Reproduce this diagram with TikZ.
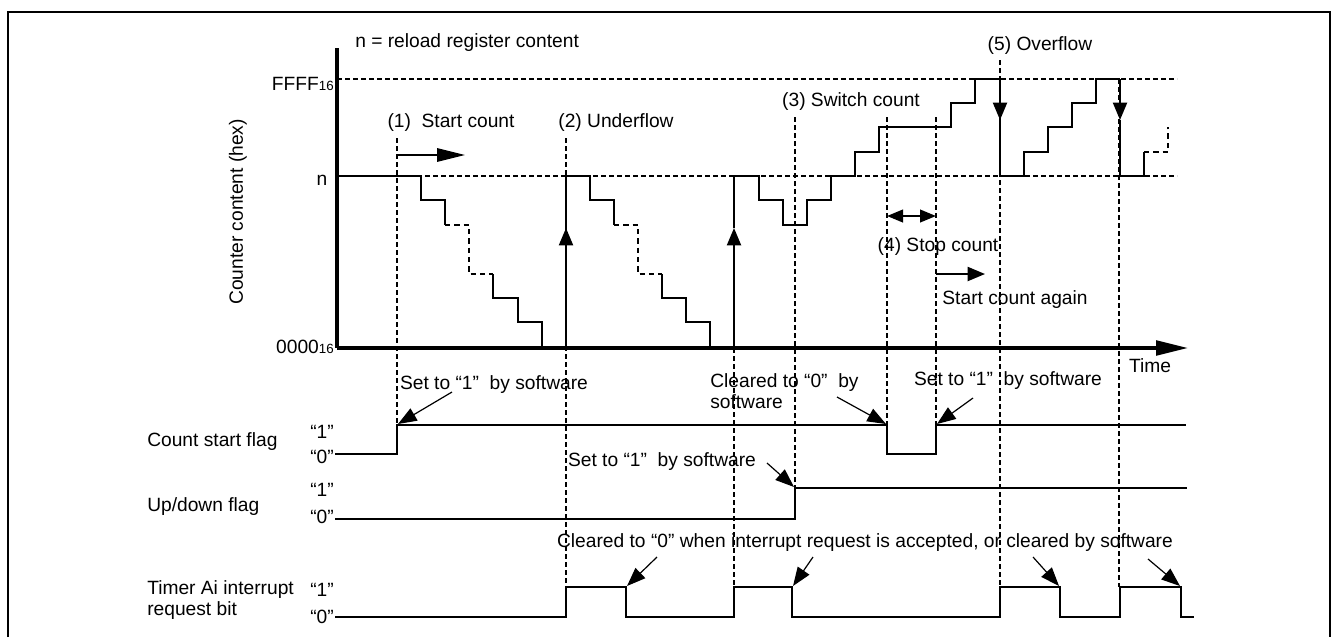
\documentclass[tikz,border=0pt]{standalone}
\usepackage{fontspec}
\setmainfont{Liberation Sans}
\usepackage{tikz}
\usetikzlibrary{arrows.meta}
\tikzstyle{axis} = [draw, line width=2.6pt]
\tikzstyle{wave} = [draw, line width=1.5pt]
\tikzstyle{wavedash} = [draw, line width=1.5pt, dash pattern=on 4pt off 3pt]
\tikzstyle{guide} = [draw, line width=0.8pt, dash pattern=on 3.4pt off 2.6pt]
\tikzstyle{txt} = [inner sep=0pt]
\tikzstyle{lvl} = [inner sep=0pt, anchor=east]
\tikzstyle{callout} = [draw, line width=0.9pt, -{Triangle[length=14pt, width=10.5pt]}]
\tikzstyle{pointer} = [draw, line width=1.5pt, -{Triangle[length=13pt, width=10.5pt]}]

\begin{document}
\begin{tikzpicture}[x=0.75pt, y=-0.75pt, font=\fontsize{14.4}{16}\selectfont]
\useasboundingbox (0,0) rectangle (1333,637);
\draw[line width=1pt] (8,637) -- (8,12) -- (1330,12) -- (1330,637);

% axes and levels
\draw[axis] (337,48) -- (337,348);
\draw[axis, -{Triangle[length=24pt, width=11pt]}] (337,348) -- (1188,348);
\draw[guide] (337,79) -- (1177,79);
\draw[guide] (337,176) -- (1177,176);

\node[txt, anchor=west] (legend) at (355,43) {n = reload register content};
\node[lvl] (ffff) at (334,84) {FFFF{\fontsize{10}{10}\selectfont 16}};
\node[txt] (nval) at (322,180) {n};
\node[lvl] (zero) at (334,347) {0000{\fontsize{10}{10}\selectfont 16}};
\node[txt, rotate=90] (ylabel) at (238,212) {Counter content (hex)};
\node[txt] (time) at (1150,366) {Time};

% vertical guides
\draw[guide] (397,138) -- (397,425);
\draw[guide] (566,138) -- (566,587);
\draw[guide] (734,348) -- (734,587);
\draw[guide] (795,117) -- (795,488);
\draw[guide] (887,117) -- (887,425);
\draw[guide] (936,117) -- (936,425);
\draw[guide] (1000,60) -- (1000,587);
\draw[guide] (1119,79) -- (1119,587);

% counter content
\draw[wave] (337,176) -- (421,176) -- (421,200) -- (445,200) -- (445,225);
\draw[wavedash] (445,225) -- (469,225) -- (469,274) -- (493,274);
\draw[wave] (493,274) -- (493,298) -- (518,298) -- (518,322) -- (542,322) -- (542,348);
\draw[pointer] (566,348) -- (566,228);
\draw[wave] (566,228) -- (566,176);
\draw[wave] (566,176) -- (590,176) -- (590,200) -- (614,200) -- (614,225);
\draw[wavedash] (614,225) -- (638,225) -- (638,274) -- (662,274);
\draw[wave] (662,274) -- (662,298) -- (686,298) -- (686,322) -- (710,322) -- (710,348);
\draw[pointer] (734,348) -- (734,228);
\draw[wave] (734,228) -- (734,176);
\draw[wave] (734,176) -- (759,176) -- (759,200) -- (783,200) -- (783,225) -- (807,225) -- (807,200) -- (831,200) -- (831,176) -- (855,176) -- (855,152) -- (879,152) -- (879,127) -- (951,127) -- (951,103) -- (975,103) -- (975,79) -- (1000,79);
\draw[pointer] (1000,79) -- (1000,120);
\draw[wave] (1000,120) -- (1000,176);
\draw[wave] (1000,176) -- (1024,176) -- (1024,152) -- (1048,152) -- (1048,127) -- (1072,127) -- (1072,103) -- (1096,103) -- (1096,79) -- (1120,79);
\draw[pointer] (1120,79) -- (1120,120);
\draw[wave] (1120,120) -- (1120,176) -- (1144,176) -- (1144,152);
\draw[wavedash] (1144,152) -- (1168,152) -- (1168,127);

% events
\node[txt] (ev1) at (451,123) {(1)~ Start count};
\draw[line width=1.5pt, -{Triangle[length=21pt, width=10pt]}] (397,155) -- (465,155);
\node[txt] (ev2) at (616,123) {(2) Underflow};
\node[txt] (ev3) at (851,102) {(3) Switch count};
\node[txt] (ev4) at (938,247) {(4) Stop count};
\draw[line width=1.5pt, {Triangle[length=12pt, width=9.5pt]}-{Triangle[length=12pt, width=9.5pt]}] (887,216) -- (936,216);
\draw[pointer] (936,274) -- (985,274);
\node[txt] (again) at (1015,300) {Start count again};
\node[txt] (ev5) at (1040,46) {(5) Overflow};

% flags
\node[txt, anchor=west] (csflag) at (147,442) {Count start flag};
\node[lvl] (cs1) at (334,432) {“1”};
\node[lvl] (cs0) at (334,457) {“0”};
\draw[wave] (335,454) -- (397,454) -- (397,425) -- (887,425) -- (887,454) -- (936,454) -- (936,425) -- (1186,425);

\node[txt, anchor=west] (udflag) at (147,507) {Up/down flag};
\node[lvl] (ud1) at (334,490) {“1”};
\node[lvl] (ud0) at (334,517) {“0”};
\draw[wave] (335,519) -- (795,519) -- (795,488) -- (1187,488);

\node[txt, anchor=west, align=left] (irflag) at (147,600) {Timer Ai interrupt\\request bit};
\node[lvl] (ir1) at (334,590) {“1”};
\node[lvl] (ir0) at (334,617) {“0”};
\draw[wave] (335,617) -- (566,617) -- (566,587) -- (626,587) -- (626,617) -- (734,617) -- (734,587) -- (792,587) -- (792,617) -- (1000,617) -- (1000,587) -- (1060,587) -- (1060,617) -- (1120,617) -- (1120,587) -- (1181,587) -- (1181,617) -- (1194,617);

% callouts
\node[txt] (set1) at (494,385) {Set to “1”~ by software};
\node[txt] (set2) at (662,462) {Set to “1”~ by software};
\node[txt, anchor=west, align=left] (clr1) at (710,391) {Cleared to “0”~ by\\software};
\node[txt] (set3) at (1008,381) {Set to “1”~ by software};
\node[txt] (clr2) at (865,543) {Cleared to “0” when interrupt request is accepted, or cleared by software};

\coordinate (set1a) at (452,392);  \coordinate (set1b) at (398,424);
\coordinate (set2a) at (767,463);  \coordinate (set2b) at (794,487);
\coordinate (clr1a) at (837,397);  \coordinate (clr1b) at (886,424);
\coordinate (set3a) at (973,398);  \coordinate (set3b) at (937,424);
\coordinate (clr2a) at (657,557);  \coordinate (clr2b) at (627,586);
\coordinate (clr2c) at (813,557);  \coordinate (clr2d) at (793,586);
\coordinate (clr2e) at (1033,557); \coordinate (clr2f) at (1059,586);
\coordinate (clr2g) at (1148,559); \coordinate (clr2h) at (1180,586);

\path[callout] (set1a) -- (set1b);
\path[callout] (set2a) -- (set2b);
\path[callout] (clr1a) -- (clr1b);
\path[callout] (set3a) -- (set3b);
\path[callout] (clr2a) -- (clr2b);
\path[callout] (clr2c) -- (clr2d);
\path[callout] (clr2e) -- (clr2f);
\path[callout] (clr2g) -- (clr2h);
\end{tikzpicture}
\end{document}
